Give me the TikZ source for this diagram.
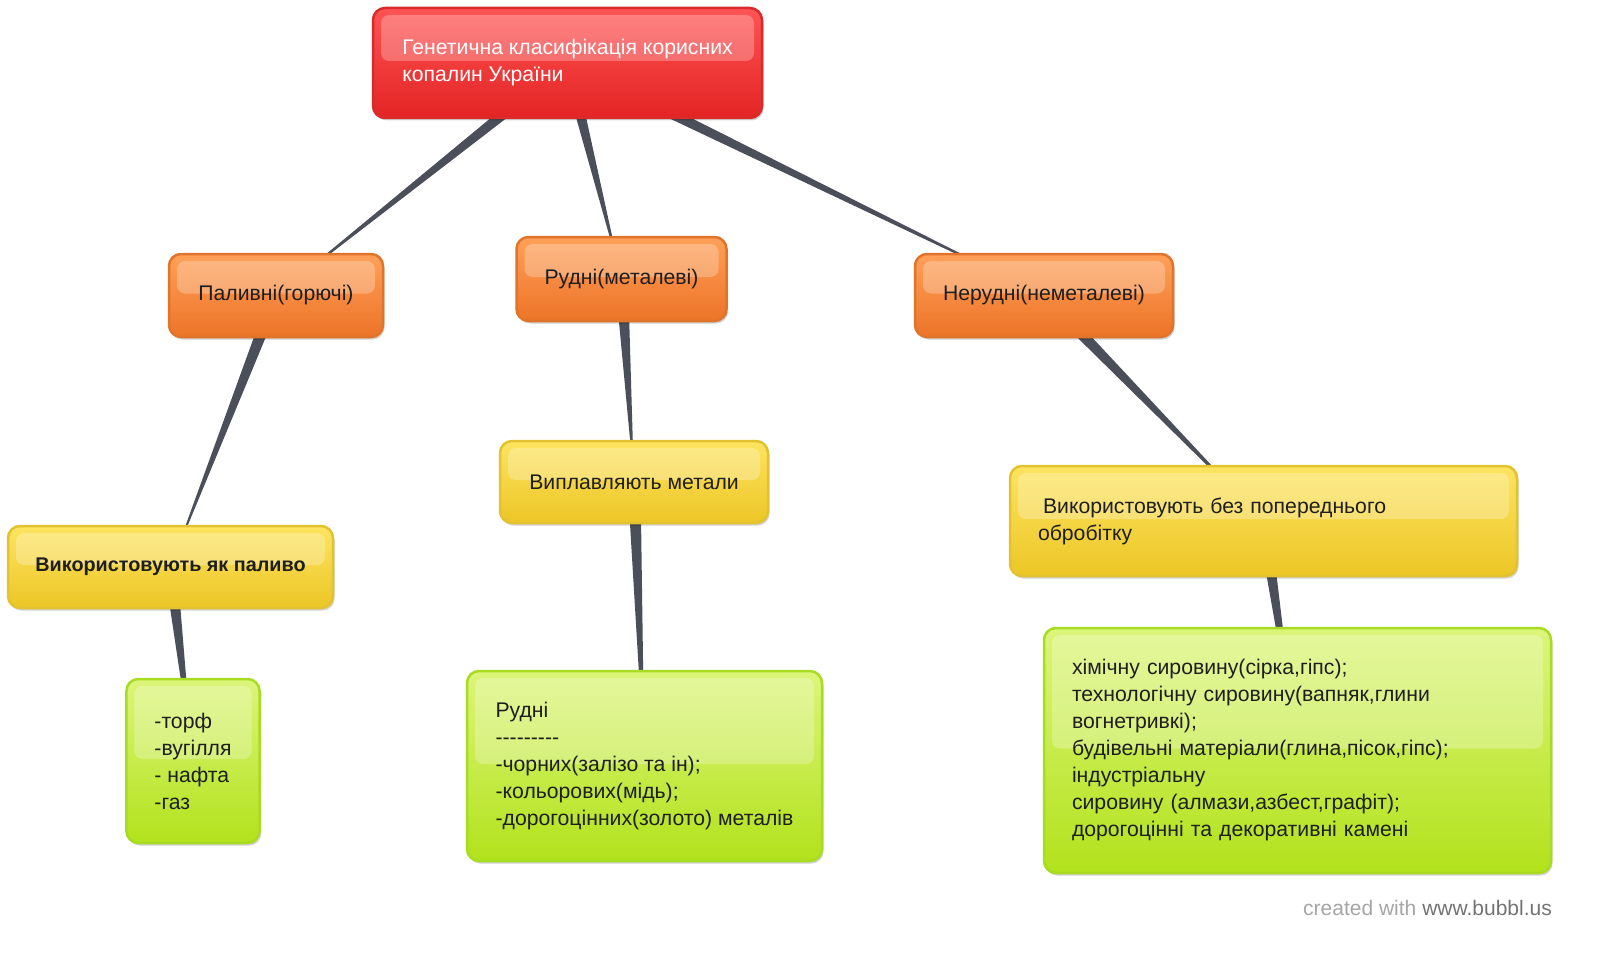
\documentclass[tikz,border=0pt]{standalone}
\usepackage{fontspec}
\setmainfont{Liberation Sans}
\usetikzlibrary{calc,shadows}
\pgfdeclarelayer{bg}
\pgfsetlayers{bg,main}
\definecolor{connc}{HTML}{4A4F59}
\definecolor{redB}{HTML}{D92B2B}
\definecolor{redT}{HTML}{FF5454}
\definecolor{redD}{HTML}{E32424}
\definecolor{orB}{HTML}{E0742A}
\definecolor{orT}{HTML}{FFA058}
\definecolor{orD}{HTML}{EC7428}
\definecolor{yeB}{HTML}{E2C230}
\definecolor{yeT}{HTML}{FDE460}
\definecolor{yeD}{HTML}{ECC626}
\definecolor{grB}{HTML}{A8DC22}
\definecolor{grT}{HTML}{DCF57A}
\definecolor{grD}{HTML}{B2E21C}
\definecolor{txt}{HTML}{1E1E1E}
\tikzset{
  box/.style={rounded corners=12pt, line width=2.5pt, inner xsep=28pt, inner ysep=0pt,
    font=\fontsize{21.2}{27}\selectfont, text=txt,
    drop shadow={shadow xshift=1.5pt, shadow yshift=-2.5pt, opacity=0.18, fill=black},
    path picture={\fill[white, opacity=0.26, rounded corners=8pt]
      ([shift={(8pt,-7pt)}]path picture bounding box.north west) rectangle
      ([shift={(-8pt,2pt)}]path picture bounding box.east);}},
  redbox/.style={box, draw=redB, top color=redT, bottom color=redD, text=white},
  orbox/.style={box, draw=orB, top color=orT, bottom color=orD},
  yebox/.style={box, draw=yeB, top color=yeT, bottom color=yeD},
  grbox/.style={box, draw=grB, top color=grT, bottom color=grD},
  connfill/.style={fill=connc}
}
\newcommand\myconn[2]{\fill[connfill] ($(#1.center)!6.5pt!90:(#2.center)$) -- ($(#1.center)!6.5pt!-90:(#2.center)$) -- (#2.center) -- cycle;}
\begin{document}
\begin{tikzpicture}[x=1pt,y=-1pt]
\useasboundingbox (0,0) rectangle (1600,955);

\node[redbox, minimum width=389pt, minimum height=110pt, align=left] (root) at (567.5,63)
  {Генетична класифікація корисних\\копалин України};

\node[orbox, minimum width=214pt, minimum height=83pt] (pal) at (276,295.5) {Паливні(горючі)};
\node[orbox, minimum width=209pt, minimum height=84pt] (rud) at (621.5,279) {Рудні(металеві)};
\node[orbox, minimum width=256pt, minimum height=83pt] (nerud) at (1044,295.5) {Нерудні(неметалеві)};

\node[yebox, inner xsep=10pt, minimum width=325pt, minimum height=82pt, font=\fontsize{19.8}{27}\selectfont\bfseries] (vyk1) at (170.5,567) {Використовують як паливо};
\node[yebox, minimum width=268pt, minimum height=82pt] (vypl) at (634,482) {Виплавляють метали};
\node[yebox, text width=451pt, minimum height=110pt, align=left] (vyk2) at (1263.5,521)
  {\hspace*{5pt}Використовують без попереднього\\обробітку};

\node[grbox, minimum width=132pt, minimum height=164pt, align=left] (torf) at (193,761)
  {-торф\\-вугілля\\- нафта\\-газ};
\node[grbox, minimum width=355pt, minimum height=190pt, align=left] (rudni) at (644.5,766)
  {Рудні\\-{}-{}-{}-{}-{}-{}-{}-{}-\\-чорних(залізо та ін);\\-кольорових(мідь);\\-дорогоцінних(золото) металів};
\node[grbox, text width=451pt, minimum height=245pt, align=left] (chem) at (1297.5,750.5)
  {хімічну сировину(сірка,гіпс);\\технологічну сировину(вапняк,глини\\вогнетривкі);\\будівельні матеріали(глина,пісок,гіпс);\\індустріальну\\сировину (алмази,азбест,графіт);\\дорогоцінні та декоративні камені};

\node[anchor=east, inner sep=0pt, font=\fontsize{21}{24}\selectfont] (wm) at (1552,908)
  {\textcolor{black!35}{created with} \textcolor{black!55}{www.bubbl.us}};

\begin{pgfonlayer}{bg}
\fill[white] (0,0) rectangle (1600,955);
\myconn{root}{pal}
\myconn{root}{rud}
\myconn{root}{nerud}
\myconn{pal}{vyk1}
\myconn{rud}{vypl}
\myconn{nerud}{vyk2}
\myconn{vyk1}{torf}
\myconn{vypl}{rudni}
\myconn{vyk2}{chem}
\end{pgfonlayer}
\end{tikzpicture}
\end{document}
